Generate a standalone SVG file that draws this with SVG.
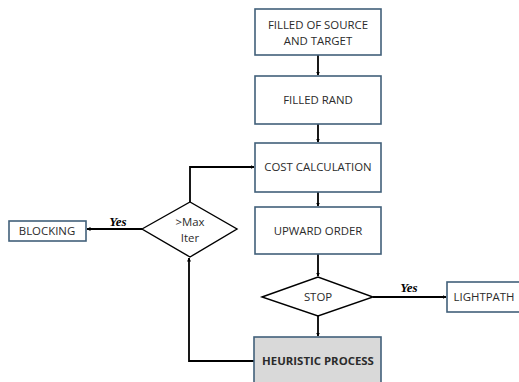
<svg xmlns="http://www.w3.org/2000/svg" width="519" height="382" viewBox="0 0 519 382">
<defs>
<marker id="ah" viewBox="0 0 8 8" refX="7" refY="4" markerWidth="4" markerHeight="4" orient="auto" markerUnits="userSpaceOnUse">
<path d="M0,0 L8,4 L0,8 Z" fill="#000"/>
</marker>
<style>
.box{fill:#fff;stroke:#41607a;stroke-width:1.6}
.gray{fill:#d9d9d9}
.dia{fill:#fff;stroke:#000;stroke-width:1.4}
.t{font-family:"Open Sans","Liberation Sans",sans-serif;font-size:11.4px;fill:#2b2b2b;text-anchor:middle}
.b{font-weight:bold}
.yes{font-family:"Liberation Serif",serif;font-style:italic;font-weight:bold;font-size:13px;fill:#000;text-anchor:middle}
.c{fill:none;stroke:#000;stroke-width:1.8}
</style>
</defs>
<g id="connectors">
<path class="c" d="M318,55 V75" marker-end="url(#ah)"/>
<path class="c" d="M318,124 V142" marker-end="url(#ah)"/>
<path class="c" d="M318,192 V206" marker-end="url(#ah)"/>
<path class="c" d="M318,254 V276" marker-end="url(#ah)"/>
<path class="c" d="M318,316 V336" marker-end="url(#ah)"/>
<path class="c" d="M373,297 H446" marker-end="url(#ah)"/>
<path class="c" d="M254,361 H189 V258" marker-end="url(#ah)"/>
<path class="c" d="M190,202 V167 H254" marker-end="url(#ah)"/>
<path class="c" d="M142,229 H87" marker-end="url(#ah)"/>
<text class="yes" x="118" y="226">Yes</text>
<text class="yes" x="409" y="292">Yes</text>
</g>
<g id="n1">
<rect class="box" x="255" y="9" width="126" height="46"/>
<text class="t" x="318" y="29">FILLED OF SOURCE</text>
<text class="t" x="318" y="45">AND TARGET</text>
</g>
<g id="n2">
<rect class="box" x="255" y="76" width="126" height="48"/>
<text class="t" x="318" y="104">FILLED RAND</text>
</g>
<g id="n3">
<rect class="box" x="255" y="143" width="126" height="49"/>
<text class="t" x="318" y="171">COST CALCULATION</text>
</g>
<g id="n4">
<rect class="box" x="255" y="207" width="126" height="47"/>
<text class="t" x="318" y="235">UPWARD ORDER</text>
</g>
<g id="stop">
<polygon class="dia" points="262,297 318,277 373,297 318,316"/>
<text class="t" x="318" y="301">STOP</text>
</g>
<g id="lightpath">
<rect class="box" x="447" y="282" width="80" height="30"/>
<text class="t" x="484" y="301">LIGHTPATH</text>
</g>
<g id="heuristic">
<rect class="box gray" x="254" y="337" width="127" height="50"/>
<text class="t b" x="318" y="365">HEURISTIC PROCESS</text>
</g>
<g id="maxiter">
<polygon class="dia" points="142,229 190,202 237,229 190,257"/>
<text class="t" x="190" y="226">&gt;Max</text>
<text class="t" x="190" y="242">Iter</text>
</g>
<g id="blocking">
<rect class="box" x="9" y="221" width="77" height="20"/>
<text class="t" x="47" y="235">BLOCKING</text>
</g>
</svg>
